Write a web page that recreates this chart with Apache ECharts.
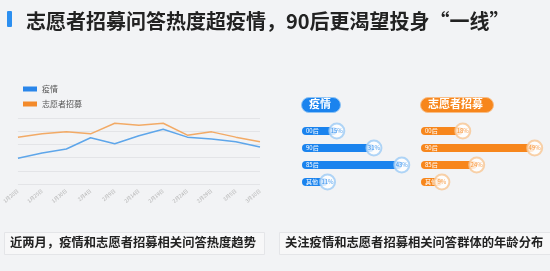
<!DOCTYPE html>
<html>
<head>
<meta charset="utf-8">
<script src="https://cdn.jsdelivr.net/npm/echarts@6/dist/echarts.min.js"></script>
<style>
  html, body { margin: 0; padding: 0; background: #f2f3f5; }
  #chart { width: 550px; height: 271px; }
</style>
</head>
<body>
<div id="chart"></div>
<script>
const dates = ["1月20日", "1月25日", "1月30日", "2月4日", "2月9日", "2月14日", "2月19日", "2月24日", "2月29日", "3月5日", "3月10日"];
const epidemic = [39, 47, 53, 70, 61, 73, 83, 71, 68, 64, 56];
const volunteer = [71, 76, 79, 76, 92, 89, 92, 74, 79, 71, 64];

const ageGroups = ["00后", "90后", "85后", "其他"];
const epidemicAge = [15, 31, 43, 11];
const volunteerAge = [18, 49, 24, 9];

const BLUE = "#1a83ee";
const ORANGE = "#f7861c";
const FONT = "Noto Sans CJK SC";

var chartDom = document.getElementById("chart");
var myChart = echarts.init(chartDom);

// bar + ring at end, one pair per group
const ageSeries = (idx, values, color, ring) => [
  {
    type: "bar",
    xAxisIndex: idx,
    yAxisIndex: idx,
    data: values,
    barWidth: 8,
    itemStyle: { color: color, borderRadius: 4 },
    label: {
      show: true,
      position: "insideLeft",
      distance: 4,
      formatter: (p) => ageGroups[p.dataIndex],
      color: "#fff",
      fontSize: 6,
      fontFamily: FONT,
    },
    silent: true,
  },
  {
    type: "scatter",
    xAxisIndex: idx,
    yAxisIndex: idx,
    data: values.map((v, i) => [v, i]),
    symbolSize: 15,
    itemStyle: { color: "#fff", borderColor: ring, borderWidth: 2 },
    label: {
      show: true,
      position: "inside",
      formatter: (p) => p.value[0] + "%",
      color: color,
      fontSize: 6,
      fontFamily: FONT,
    },
    z: 5,
    silent: true,
  },
];

var option = {
  backgroundColor: "#f2f3f5",
  animation: false,
  textStyle: { fontFamily: FONT },
  title: {
    text: "志愿者招募问答热度超疫情，90后更渴望投身“一线”",
    left: 21,
    top: 6,
    textStyle: { fontSize: 20, fontWeight: "bold", color: "#222", fontFamily: FONT },
  },
  legend: {
    orient: "vertical",
    left: 18,
    top: 80,
    itemWidth: 14,
    itemHeight: 5,
    itemGap: 7,
    icon: "rect",
    textStyle: { fontSize: 8, color: "#555", fontFamily: FONT },
    data: ["疫情", "志愿者招募"],
  },
  grid: [
    { left: 17, right: 290, top: 118, bottom: 87 },
    { left: 302, width: 116, top: 122.5, height: 68 },
    { left: 421, width: 116, top: 122.5, height: 68 },
  ],
  xAxis: [
    {
      type: "category",
      gridIndex: 0,
      data: dates,
      boundaryGap: false,
      axisLine: { show: false },
      axisTick: { show: false },
      axisLabel: { rotate: 40, fontSize: 5, color: "#b4b4b4", margin: 6, interval: 0 },
    },
    { type: "value", gridIndex: 1, min: 0, max: 50, show: false },
    { type: "value", gridIndex: 2, min: 0, max: 50, show: false },
  ],
  yAxis: [
    {
      type: "value",
      gridIndex: 0,
      min: 0,
      max: 100,
      interval: 20,
      axisLabel: { show: false },
      axisLine: { show: false },
      axisTick: { show: false },
      splitLine: { lineStyle: { color: "#e3e4e7", width: 1 } },
    },
    { type: "category", gridIndex: 1, data: ageGroups, inverse: true, show: false },
    { type: "category", gridIndex: 2, data: ageGroups, inverse: true, show: false },
  ],
  graphic: [
    { type: "rect", left: 7, top: 11, shape: { width: 5, height: 16, r: 1 }, style: { fill: "#2c8ff0" } },
    { type: "rect", left: 301, top: 97, shape: { width: 39, height: 15, r: 7.5 }, style: { fill: BLUE, stroke: "#8ec3f5", lineWidth: 1 } },
    { type: "text", left: 309, top: 98, style: { text: "疫情", fill: "#fff", fontSize: 11, fontWeight: "bold", fontFamily: FONT } },
    { type: "rect", left: 420, top: 97, shape: { width: 73, height: 15, r: 7.5 }, style: { fill: ORANGE, stroke: "#f8bd86", lineWidth: 1 } },
    { type: "text", left: 428, top: 98, style: { text: "志愿者招募", fill: "#fff", fontSize: 11, fontWeight: "bold", fontFamily: FONT } },
    { type: "rect", left: 4, top: 232, shape: { width: 260, height: 22 }, style: { fill: "#f7f7f8", stroke: "#e4e5e8", lineWidth: 1 } },
    { type: "text", left: 10, top: 236, style: { text: "近两月，疫情和志愿者招募相关问答热度趋势", fill: "#222", fontSize: 12.3, fontWeight: "bold", fontFamily: FONT } },
    { type: "rect", left: 279, top: 232, shape: { width: 280, height: 22 }, style: { fill: "#f7f7f8", stroke: "#e4e5e8", lineWidth: 1 } },
    { type: "text", left: 285, top: 236, style: { text: "关注疫情和志愿者招募相关问答群体的年龄分布", fill: "#222", fontSize: 12.3, fontWeight: "bold", fontFamily: FONT } },
  ],
  series: [
    {
      name: "疫情",
      type: "line",
      data: epidemic,
      symbol: "none",
      lineStyle: { color: "#5ea6ea", width: 1.5 },
      itemStyle: { color: "#2a86ea" },
    },
    {
      name: "志愿者招募",
      type: "line",
      data: volunteer,
      symbol: "none",
      lineStyle: { color: "#f2aa66", width: 1.5 },
      itemStyle: { color: "#f38a2a" },
    },
    ...ageSeries(1, epidemicAge, BLUE, "#9ccaf5"),
    ...ageSeries(2, volunteerAge, ORANGE, "#f8c592"),
  ],
};

option && myChart.setOption(option);
</script>
</body>
</html>
